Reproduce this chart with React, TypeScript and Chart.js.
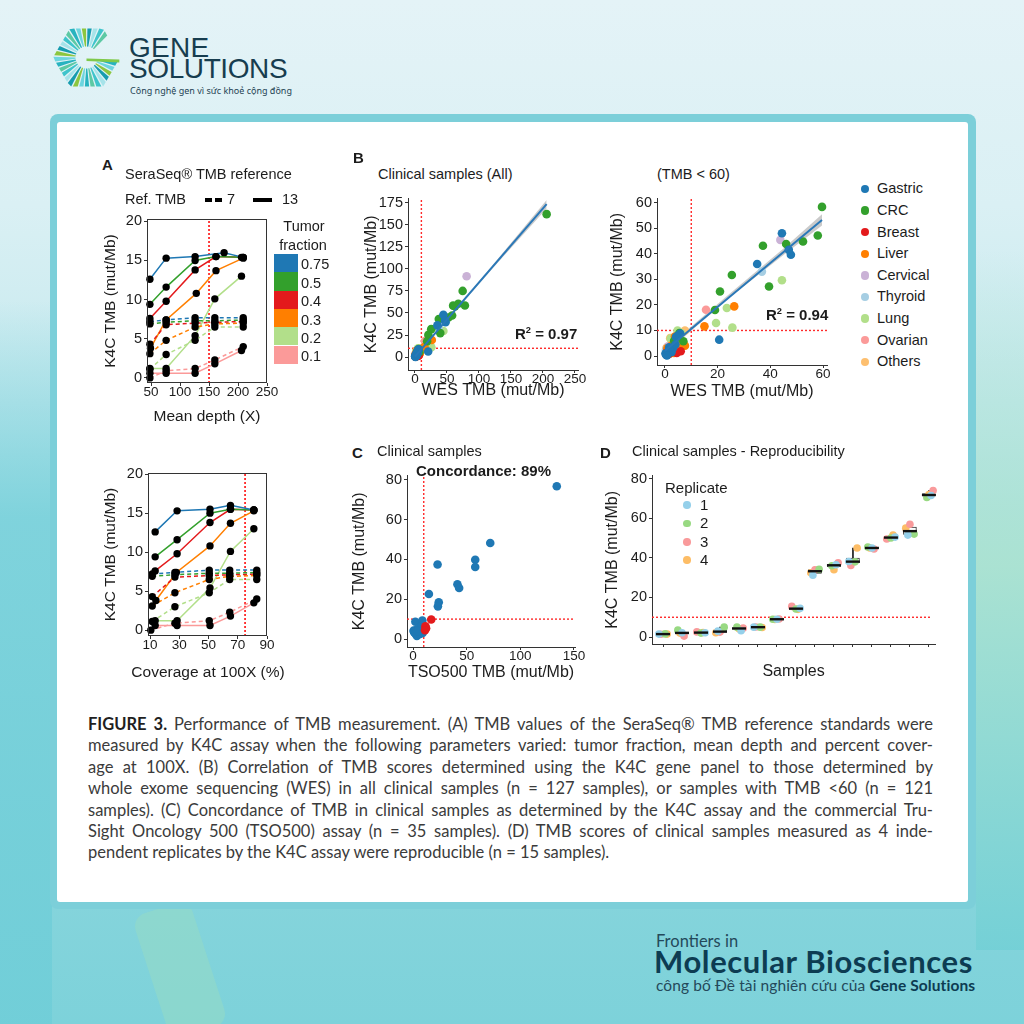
import React, { useEffect, useRef } from 'react';
import { Chart, registerables } from 'chart.js';

Chart.register(...registerables);

const FIG_FONT = "'Liberation Sans', Arial, Helvetica, sans-serif";
const INK = '#1c1c1c';
const AXIS = '#333333';
const RED_LINE = '#ff2a2a';
Chart.defaults.font.family = FIG_FONT;

// ---------------- Panel A: SeraSeq TMB reference ----------------
const fractionLabels = ['0.75', '0.5', '0.4', '0.3', '0.2', '0.1'];
const fractionColors = ['#1F78B4', '#33A02C', '#E31A1C', '#FF7F00', '#B2DF8A', '#FB9A99'];
// K4C TMB measured for reference TMB 13 (solid) and 7 (dashed), 5 runs per tumor fraction
const tmbRef13 = [
  [12.6, 15.3, 15.5, 16.0, 15.4],
  [9.4, 11.6, 15.0, 15.5, 15.4],
  [7.6, 9.8, 13.8, 15.5, 15.4],
  [3.8, 7.4, 10.8, 13.7, 15.3],
  [1.2, 1.2, 5.4, 10.1, 13.0],
  [0.6, 0.6, 0.6, 1.8, 3.5],
];
const tmbRef7 = [
  [7.2, 7.4, 7.7, 7.7, 7.7],
  [6.9, 7.1, 7.3, 7.3, 7.4],
  [4.3, 6.8, 7.0, 7.1, 7.2],
  [3.1, 4.8, 6.5, 6.9, 7.0],
  [1.1, 3.0, 4.8, 6.5, 6.5],
  [0.0, 0.9, 1.2, 2.3, 4.0],
];
// mean depth (X) of each run
const depthRef13 = [
  [48, 76, 126, 176, 209],
  [48, 76, 126, 162, 206],
  [48, 76, 126, 162, 209],
  [49, 76, 128, 162, 209],
  [48, 76, 126, 160, 206],
  [48, 76, 126, 160, 206],
];
const depthRef7 = [
  [48, 76, 126, 160, 209],
  [48, 76, 126, 160, 209],
  [48, 76, 126, 160, 209],
  [48, 76, 126, 160, 209],
  [48, 76, 126, 160, 209],
  [48, 76, 126, 160, 209],
];
// coverage at 100X (%) of each run
const coverageRef13 = [
  [13.5, 28.5, 51, 65, 81],
  [13.5, 28.5, 51, 65, 81],
  [13.5, 28.5, 51, 65, 81],
  [14, 28, 51, 65, 81],
  [13.5, 28.5, 51, 65, 81],
  [13.5, 28.5, 51, 65, 81],
];
const coverageRef7 = [
  [11.5, 27, 50.5, 64.5, 83],
  [11.5, 27, 50.5, 64.5, 83],
  [11.5, 27, 50.5, 64.5, 83],
  [11.5, 27, 50.5, 64.5, 83],
  [11.5, 27, 50.5, 64.5, 83],
  [10.5, 27, 50.5, 64.5, 83],
];
const depthCutoff = 150;
const coverageCutoff = 75;
const tmbTicksA = [0, 5, 10, 15, 20];
const depthTicks = [50, 100, 150, 200, 250];
const coverageTicks = [10, 30, 50, 70, 90];

// ---------------- Panel B: K4C vs WES ----------------
const cancerTypes = ['Gastric', 'CRC', 'Breast', 'Liver', 'Cervical', 'Thyroid', 'Lung', 'Ovarian', 'Others'];
const cancerColors = ['#1F78B4', '#33A02C', '#E31A1C', '#FF7F00', '#CAB2D6', '#A6CEE3', '#B2DF8A', '#FB9A99', '#FDBF6F'];
// [WES TMB, K4C TMB]
const gastricPts = [[44.4, 48.0], [47.0, 41.5], [47.8, 39.6], [35.0, 36.0], [20.6, 6.4], [5.8, 8.8], [5.0, 8.0], [4.2, 7.5], [2.0, 2.5], [1.0, 1.2], [0.5, 0.4], [3.0, 3.0], [1.5, 2.0], [0.2, 1.0], [2.5, 1.5], [4.0, 4.5], [0.8, 0.2], [1.6, 3.4]];
const crcPts = [[59.6, 58.3], [58.0, 47.1], [52.4, 44.8], [46.0, 43.8], [37.2, 43.1], [39.5, 27.2], [25.4, 31.7], [20.9, 25.2], [19.0, 18.0], [7.0, 5.8], [4.5, 7.2], [5.5, 9.0], [3.5, 6.0], [205.7, 162.0], [74.5, 75.0], [78.0, 58.5], [67.7, 60.5], [62.5, 57.5]];
const breastPts = [[6.0, 1.9], [3.2, 2.0], [1.5, 0.8], [2.2, 3.2], [0.8, 1.5], [4.5, 1.2]];
const liverPts = [[26.3, 19.4], [15.0, 11.6], [7.6, 4.0], [2.0, 1.5], [1.0, 2.2], [3.0, 3.2], [4.2, 2.0], [2.6, 4.2], [0.5, 0.6], [5.5, 2.0], [3.8, 7.6], [1.8, 0.9], [2.4, 2.6], [0.9, 3.0], [6.5, 4.5], [1.4, 1.8], [3.4, 1.2]];
const cervicalPts = [[43.8, 45.4], [80.7, 91.6], [1.2, 3.8], [2.5, 2.4], [4.8, 4.8]];
const thyroidPts = [[36.8, 33.0], [2.0, 1.8], [1.0, 1.4], [3.2, 3.6], [0.4, 2.4]];
const lungPts = [[44.4, 29.6], [23.5, 18.8], [19.4, 12.9], [25.6, 11.1], [4.8, 10.0], [3.0, 5.0], [1.0, 2.0], [6.2, 9.0], [2.2, 6.8]];
const ovarianPts = [[15.6, 18.1], [2.0, 3.0], [1.0, 0.5], [3.5, 4.2]];
const othersPts = [[7.6, 10.0], [7.4, 4.4], [3.0, 4.0], [2.0, 7.0], [1.2, 1.0], [5.0, 6.0], [0.6, 3.2]];
const cancerPoints = [gastricPts, crcPts, breastPts, liverPts, cervicalPts, thyroidPts, lungPts, ovarianPts, othersPts];
// fitted regression lines and their confidence bands
const fitAllX = [0, 205.7];
const fitAllY = [0.5, 173.3];
const bandAllX = [0, 20, 60, 120, 205.7];
const bandAllLo = [-1.2, 16.2, 49.8, 99.5, 168.5];
const bandAllHi = [2.2, 18.4, 52.0, 103.1, 178.0];
const fitLowX = [0, 59.6];
const fitLowY = [2.1, 53.2];
const bandLowX = [0, 10, 25, 45, 59.6];
const bandLowLo = [0.8, 9.9, 23.3, 39.5, 51.0];
const bandLowHi = [3.4, 11.5, 24.7, 42.0, 55.4];
const tmbCutoff = 10;
const bAllXTicks = [0, 50, 100, 150, 200, 250];
const bAllYTicks = [0, 25, 50, 75, 100, 125, 150, 175];
const bLowTicksX = [0, 20, 40, 60];
const bLowTicksY = [0, 10, 20, 30, 40, 50, 60];

// ---------------- Panel C: K4C vs TSO500 ----------------
// [TSO500 TMB, K4C TMB]
const concordantPts = [[134, 76.7], [72, 48.2], [58, 39.8], [58, 36.2], [22.9, 37.4], [41.4, 27.5], [43, 25.6], [14.8, 22.6], [24, 18.5], [23.2, 16.4], [2.2, 8.7], [8.7, 9.3], [0.5, 4.2], [1.5, 3.2], [2.4, 2.6], [3.2, 4.6], [4.2, 2.0], [5.0, 3.2], [6.0, 3.8], [7.0, 4.4], [8.2, 5.4], [9.0, 3.0], [3.6, 1.6], [1.0, 3.6], [5.6, 5.2], [7.6, 6.4], [2.6, 3.0], [6.6, 2.6], [4.6, 4.0], [8.8, 7.0], [9.6, 4.6]];
const discordantPts = [[17, 9.8], [11.6, 6.4], [12.2, 5.4], [11.2, 4.4]];
const cXTicks = [0, 50, 100, 150];
const cYTicks = [0, 20, 40, 60, 80];

// ---------------- Panel D: reproducibility ----------------
const replicateLabels = ['1', '2', '3', '4'];
const replicateColors = ['#95d0ea', '#98d982', '#f99a9b', '#fdbd66'];
const rep1 = [1.5, 2.2, 2.2, 3.0, 3.2, 5.0, 9.0, 14.5, 31.2, 36.5, 38.2, 45.0, 50.5, 51.5, 71.5];
const rep2 = [1.6, 3.5, 2.0, 5.0, 5.0, 5.0, 9.0, 14.2, 34.2, 36.0, 38.0, 45.5, 50.0, 52.0, 70.5];
const rep3 = [1.4, 0.5, 2.6, 2.5, 4.5, 5.1, 9.1, 15.5, 34.0, 37.5, 36.2, 44.5, 49.5, 57.0, 74.0];
const rep4 = [1.5, 2.0, 2.3, 2.2, 4.2, 4.8, 8.9, 14.0, 32.5, 34.0, 45.0, 45.0, 51.5, 55.0, 72.0];
const replicates = [rep1, rep2, rep3, rep4];
const dYTicks = [0, 20, 40, 60, 80];

// ---------------- caption ----------------
const captionLines = [
  'Performance of TMB measurement. (A) TMB values of the SeraSeq® TMB reference standards were',
  'measured by K4C assay when the following parameters varied: tumor fraction, mean depth and percent cover-',
  'age at 100X. (B) Correlation of TMB scores determined using the K4C gene panel to those determined by',
  'whole exome sequencing (WES) in all clinical samples (n = 127 samples), or samples with TMB <60 (n = 121',
  'samples). (C) Concordance of TMB in clinical samples as determined by the K4C assay and the commercial Tru-',
  'Sight Oncology 500 (TSO500) assay (n = 35 samples). (D) TMB scores of clinical samples measured as 4 inde-',
  'pendent replicates by the K4C assay were reproducible (n = 15 samples).',
];

// ---------------- helpers ----------------
type AxisSpec = {
  min: number; max: number; ticks: number[]; size: number; title: string;
  titleSize: number; titlePad: number; labels?: boolean; border?: boolean; showTitle?: boolean;
};

function axis(horizontal: boolean, a: AxisSpec) {
  return {
    type: 'linear',
    min: a.min,
    max: a.max,
    offset: false,
    afterBuildTicks: (s: any) => { s.ticks = a.ticks.map((v) => ({ value: v })); },
    afterFit: (s: any) => { if (horizontal) s.height = a.size; else s.width = a.size; },
    grid: { display: true, offset: false, drawOnChartArea: false, drawTicks: true, tickLength: 3, color: AXIS, lineWidth: 1 },
    border: { display: a.border !== false, color: AXIS, width: 1 },
    ticks: {
      color: INK,
      font: horizontal ? { family: FIG_FONT, size: 13.5, lineHeight: 1 } : { family: FIG_FONT, size: 14.5 },
      padding: horizontal ? 0 : 2,
      maxRotation: 0,
      minRotation: 0,
      autoSkip: false,
      callback: (v: any) => (a.labels === false ? '' : String(v)),
    },
    title: {
      display: a.showTitle !== false,
      text: a.title,
      color: INK,
      font: { family: FIG_FONT, size: a.titleSize },
      padding: horizontal ? { top: 0, bottom: a.titlePad } : { top: a.titlePad, bottom: 0 },
    },
  };
}

function base(pad: any, scales: any) {
  return {
    responsive: false,
    animation: false,
    devicePixelRatio: 1,
    events: [],
    layout: { padding: pad },
    plugins: { legend: { display: false }, tooltip: { enabled: false } },
    scales,
  };
}

const framePlugin = {
  id: 'frame',
  afterDatasetsDraw(chart: any) {
    const { ctx, chartArea } = chart;
    ctx.save();
    ctx.strokeStyle = AXIS;
    ctx.lineWidth = 1;
    ctx.strokeRect(chartArea.left + 0.5, chartArea.top + 0.5, chartArea.right - chartArea.left - 1, chartArea.bottom - chartArea.top - 1);
    ctx.restore();
  },
};

function refLine(x0: number, y0: number, x1: number, y1: number, width = 1.4) {
  return {
    type: 'line',
    data: [{ x: x0, y: y0 }, { x: x1, y: y1 }],
    borderColor: RED_LINE,
    borderWidth: width,
    borderDash: [2, 2],
    pointRadius: 0,
    fill: false,
  };
}

function panelADatasets(x13: number[][], x7: number[][], cutoff: number, yMin: number, yMax: number) {
  const lines: any[] = [];
  const dots: any[] = [];
  fractionColors.forEach((c, i) => {
    const solid = x13[i].map((x, j) => ({ x, y: tmbRef13[i][j] }));
    const dashed = x7[i].map((x, j) => ({ x, y: tmbRef7[i][j] }));
    lines.push({ type: 'line', data: solid, borderColor: c, borderWidth: 1.5, pointRadius: 0, fill: false });
    lines.push({ type: 'line', data: dashed, borderColor: c, borderWidth: 1.5, borderDash: [4, 3], pointRadius: 0, fill: false });
    dots.push(...solid, ...dashed);
  });
  return [
    { type: 'scatter', data: dots, pointRadius: 3.7, backgroundColor: '#000', borderWidth: 0, clip: false },
    ...lines,
    refLine(cutoff, yMin, cutoff, yMax, 1.8),
  ];
}

function toXY(xs: number[], ys: number[]) {
  return xs.map((x, i) => ({ x, y: ys[i] }));
}

function panelBDatasets(keep: (p: number[]) => boolean, fx: number[], fy: number[], bx: number[], lo: number[], hi: number[], xr: number[], yr: number[]) {
  const pts = cancerPoints.map((arr, k) => ({
    type: 'scatter',
    data: arr.filter(keep).map(([x, y]) => ({ x, y })),
    pointRadius: 4.3,
    backgroundColor: cancerColors[k],
    borderWidth: 0,
    clip: false,
  }));
  return [
    { type: 'line', data: toXY(fx, fy), borderColor: '#2a78b8', borderWidth: 2, pointRadius: 0, fill: false },
    ...pts,
    { type: 'line', data: toXY(bx, hi), borderWidth: 0, borderColor: 'rgba(0,0,0,0)', pointRadius: 0, fill: '+1', backgroundColor: 'rgba(150,150,150,0.5)' },
    { type: 'line', data: toXY(bx, lo), borderWidth: 0, borderColor: 'rgba(0,0,0,0)', pointRadius: 0, fill: false },
    refLine(xr[0], tmbCutoff, xr[1], tmbCutoff),
    refLine(tmbCutoff, yr[0], tmbCutoff, yr[1]),
  ];
}

function quantile(sorted: number[], p: number) {
  const h = (sorted.length - 1) * p;
  const lo = Math.floor(h);
  const hiI = Math.min(lo + 1, sorted.length - 1);
  return sorted[lo] + (h - lo) * (sorted[hiI] - sorted[lo]);
}

// ---------------- chart configs ----------------
const configATop = () => ({
  type: 'scatter',
  data: { datasets: panelADatasets(depthRef13, depthRef7, depthCutoff, -0.65, 20.3) },
  options: base({ left: 0, top: 14, right: 19, bottom: 0 }, {
    x: axis(true, { min: 43, max: 250, ticks: depthTicks, size: 52, title: 'Mean depth (X)', titleSize: 15.5, titlePad: 9, border: false }),
    y: axis(false, { min: -0.65, max: 20.3, ticks: tmbTicksA, size: 51, title: 'K4C TMB (mut/Mb)', titleSize: 15.5, titlePad: 5, border: false }),
  }),
  plugins: [framePlugin],
});

const configABottom = () => ({
  type: 'scatter',
  data: { datasets: panelADatasets(coverageRef13, coverageRef7, coverageCutoff, -0.75, 20.15) },
  options: base({ left: 0, top: 13, right: 19, bottom: 0 }, {
    x: axis(true, { min: 8.6, max: 90, ticks: coverageTicks, size: 54, title: 'Coverage at 100X (%)', titleSize: 15.5, titlePad: 9, border: false, showTitle: false }),
    y: axis(false, { min: -0.75, max: 20.15, ticks: tmbTicksA, size: 52, title: 'K4C TMB (mut/Mb)', titleSize: 15.5, titlePad: 5, border: false }),
  }),
  plugins: [framePlugin],
});

const configBAll = () => ({
  type: 'scatter',
  data: { datasets: panelBDatasets(() => true, fitAllX, fitAllY, bandAllX, bandAllLo, bandAllHi, [-10.9, 254.7], [-14.6, 179.5]) },
  options: base({ left: 0, top: 9, right: 17, bottom: 0 }, {
    x: axis(true, { min: -10.9, max: 254.7, ticks: bAllXTicks, size: 32, title: 'WES TMB (mut/Mb)', titleSize: 16, titlePad: 1.4 }),
    y: axis(false, { min: -14.6, max: 179.5, ticks: bAllYTicks, size: 58, title: 'K4C TMB (mut/Mb)', titleSize: 16, titlePad: 12.4 }),
  }),
});

const configBLow = () => ({
  type: 'scatter',
  data: { datasets: panelBDatasets((p) => p[0] < 60 && p[1] < 60, fitLowX, fitLowY, bandLowX, bandLowLo, bandLowHi, [-3.0, 61.5], [-3.5, 61.5]) },
  options: base({ left: 0, top: 9, right: 18, bottom: 0 }, {
    x: axis(true, { min: -3.0, max: 61.5, ticks: bLowTicksX, size: 37, title: 'WES TMB (mut/Mb)', titleSize: 16, titlePad: 1 }),
    y: axis(false, { min: -3.5, max: 61.5, ticks: bLowTicksY, size: 57, title: 'K4C TMB (mut/Mb)', titleSize: 16, titlePad: 8.4 }),
  }),
});

const configC = () => ({
  type: 'scatter',
  data: {
    datasets: [
      { type: 'scatter', data: discordantPts.map(([x, y]) => ({ x, y })), pointRadius: 4.3, backgroundColor: '#E31A1C', borderWidth: 0, clip: false },
      { type: 'scatter', data: concordantPts.map(([x, y]) => ({ x, y })), pointRadius: 4.3, backgroundColor: '#1F78B4', borderWidth: 0, clip: false },
      refLine(-5.6, tmbCutoff, 151, tmbCutoff),
      refLine(tmbCutoff, -4, tmbCutoff, 82),
    ],
  },
  options: base({ left: 0, top: 8, right: 15, bottom: 0 }, {
    x: axis(true, { min: -5.6, max: 151, ticks: cXTicks, size: 43, title: 'TSO500 TMB (mut/Mb)', titleSize: 16, titlePad: 7.6 }),
    y: axis(false, { min: -4, max: 82, ticks: cYTicks, size: 62, title: 'K4C TMB (mut/Mb)', titleSize: 16, titlePad: 4.6 }),
  }),
});

const configD = () => {
  const stats = rep1.map((_, i) => {
    const s = replicates.map((r) => r[i]).sort((a, b) => a - b);
    return { min: s[0], q1: quantile(s, 0.25), med: quantile(s, 0.5), q3: quantile(s, 0.75), max: s[s.length - 1] };
  });
  const jitter = (i: number, k: number) => (((i * 7 + k * 3) % 5) - 2) * 0.11;
  const sampleTicks = rep1.map((_, i) => i + 1);
  return {
    type: 'scatter',
    data: {
      datasets: [
        { type: 'scatter', data: stats.map((s, i) => ({ x: i + 1, y: s.med })), pointStyle: 'line', pointRadius: 7, pointBorderWidth: 2.4, pointBorderColor: '#111', borderColor: '#111', clip: false },
        ...replicates.map((r, k) => ({
          type: 'scatter',
          data: r.map((v, i) => ({ x: i + 1 + jitter(i, k), y: v })),
          pointRadius: 3.8,
          backgroundColor: replicateColors[k],
          borderWidth: 0,
          clip: false,
        })),
        { type: 'bar', data: stats.map((s, i) => ({ x: i + 1, y: [s.q1, s.q3] })), barThickness: 13, backgroundColor: '#ffffff', borderColor: '#333', borderWidth: 1, borderSkipped: false, grouped: false },
        { type: 'bar', data: stats.map((s, i) => ({ x: i + 1, y: [s.min, s.max] })), barThickness: 1.2, backgroundColor: '#333', borderWidth: 0, grouped: false },
        refLine(0.42, tmbCutoff, 15.1, tmbCutoff),
      ],
    },
    options: base({ left: 0, top: 8, right: 13, bottom: 0 }, {
      x: axis(true, { min: 0.42, max: 15.32, ticks: sampleTicks, size: 46, title: 'Samples', titleSize: 16, titlePad: 8.4, labels: false }),
      y: axis(false, { min: -3.5, max: 81.5, ticks: dYTicks, size: 54, title: 'K4C TMB (mut/Mb)', titleSize: 16, titlePad: 5.4 }),
    }),
  };
};

// ---------------- components ----------------
function ChartCanvas({ left, top, width, height, config }: any) {
  const ref = useRef<HTMLCanvasElement | null>(null);
  useEffect(() => {
    const chart = new Chart(ref.current as HTMLCanvasElement, config() as any);
    return () => chart.destroy();
  }, []);
  return <canvas ref={ref} width={width} height={height} style={{ position: 'absolute', left, top, width, height }} />;
}

function Txt({ x, y, size = 14.5, bold = false, color = INK, family = FIG_FONT, center = false, children, style }: any) {
  return (
    <div
      style={{
        position: 'absolute',
        left: x,
        top: y - size * 0.6,
        fontSize: size,
        lineHeight: `${size * 1.2}px`,
        fontWeight: bold ? 700 : 400,
        color,
        fontFamily: family,
        whiteSpace: 'nowrap',
        transform: center ? 'translateX(-50%)' : undefined,
        ...style,
      }}
    >
      {children}
    </div>
  );
}

function Logo() {
  const cx = 86.5;
  const cy = 57.5;
  const R = 33.5;
  const colors = ['#27b3bf', '#6dd5de', '#8cc63f', '#179caf', '#a6e3e9', '#3fc4cb', '#5cc9a4'];
  const hexR = (deg: number) => {
    const m = ((deg % 60) + 60) % 60;
    return (R * Math.cos(Math.PI / 6)) / Math.cos(((m - 30) * Math.PI) / 180);
  };
  const pt = (deg: number, r: number) => {
    const a = (deg * Math.PI) / 180;
    return `${(cx + r * Math.cos(a)).toFixed(2)},${(cy + r * Math.sin(a)).toFixed(2)}`;
  };
  const rays: any[] = [];
  let k = 0;
  for (let a = 12; a <= 318; a += 11) {
    const p = [pt(a - 3, 11), pt(a + 3, 11), pt(a + 4.2, hexR(a + 4.2)), pt(a - 4.2, hexR(a - 4.2))].join(' ');
    rays.push(<polygon key={a} points={p} fill={colors[k % colors.length]} />);
    k++;
  }
  return (
    <svg width={1024} height={120} style={{ position: 'absolute', left: 0, top: 0 }}>
      {rays}
      <polygon points={`${cx},${cy + 1} ${cx + R * 0.98},${cy + 2} ${cx + R * 0.98},${cy + 5} ${cx},${cy + 3.5}`} fill="#7fc94a" />
    </svg>
  );
}

function DashKey({ x, y, w, dashed }: any) {
  return (
    <svg width={w} height={8} style={{ position: 'absolute', left: x, top: y - 4 }}>
      <line x1={0} y1={4} x2={w} y2={4} stroke="#000" strokeWidth={4} strokeDasharray={dashed ? '7 3' : undefined} />
    </svg>
  );
}

export default function App() {
  const legendRowsB = cancerTypes.map((t, i) => ({ t, c: cancerColors[i], y: 189 + i * 21.6 }));
  return (
    <div
      style={{
        position: 'fixed',
        left: 0,
        top: 0,
        width: 1024,
        height: 1024,
        overflow: 'hidden',
        background: 'linear-gradient(180deg, #e4f3f7 0%, #daf0f4 20%, #c2e8ed 42%, #a3dfe4 62%, #88d5dc 82%, #7dd2da 100%)',
        fontFamily: FIG_FONT,
      }}
    >
      {/* side decorations */}
      <div style={{ position: 'absolute', left: 0, top: 300, width: 52, height: 724, background: 'linear-gradient(180deg, rgba(130,212,222,0) 0%, rgba(118,208,218,0.85) 30%, rgba(112,206,216,0.9) 100%)' }} />
      <div style={{ position: 'absolute', left: 976, top: 250, width: 48, height: 700, background: 'linear-gradient(180deg, rgba(190,232,222,0) 0%, rgba(170,226,208,0.9) 45%, rgba(115,208,214,0.9) 100%)' }} />
      <div style={{ position: 'absolute', left: 150, top: 905, width: 60, height: 130, borderRadius: 14, transform: 'rotate(-18deg)', background: 'rgba(150,218,196,0.55)' }} />

      <Logo />
      <div style={{ position: 'absolute', left: 129, top: 30.5, fontSize: 28, lineHeight: '33.6px', color: '#173d4f', fontFamily: "'Liberation Sans', Arial, sans-serif", letterSpacing: 0.3 }}>GENE</div>
      <div style={{ position: 'absolute', left: 129, top: 51.5, fontSize: 28, lineHeight: '33.6px', color: '#173d4f', fontFamily: "'Liberation Sans', Arial, sans-serif", letterSpacing: -0.4 }}>SOLUTIONS</div>
      <div style={{ position: 'absolute', left: 130, top: 86, fontSize: 9, lineHeight: '10.8px', color: '#1f4454', fontFamily: "'Noto Sans', sans-serif" }}>Công nghệ gen vì sức khoẻ cộng đồng</div>

      {/* card */}
      <div style={{ position: 'absolute', left: 50, top: 114, width: 926, height: 795, background: '#7ccfd9', borderRadius: 8 }} />
      <div style={{ position: 'absolute', left: 57, top: 122, width: 911, height: 780, background: '#ffffff', borderRadius: 3 }} />

      {/* charts */}
      <ChartCanvas left={96} top={205} width={190} height={230} config={configATop} />
      <ChartCanvas left={96} top={460} width={190} height={230} config={configABottom} />
      <ChartCanvas left={350} top={188} width={245} height={214} config={configBAll} />
      <ChartCanvas left={600} top={188} width={245} height={214} config={configBLow} />
      <ChartCanvas left={345} top={465} width={245} height={225} config={configC} />
      <ChartCanvas left={598} top={465} width={350} height={225} config={configD} />

      {/* panel A texts */}
      <Txt x={102} y={165} size={15} bold>A</Txt>
      <Txt x={125} y={175} size={14.5}>SeraSeq® TMB reference</Txt>
      <Txt x={125} y={200} size={14.5}>Ref. TMB</Txt>
      <DashKey x={205} y={200} w={18} dashed />
      <Txt x={227} y={200} size={14.5}>7</Txt>
      <DashKey x={253} y={200} w={19} />
      <Txt x={282} y={200} size={14.5}>13</Txt>
      <Txt x={304} y={227} size={14.5} center>Tumor</Txt>
      <Txt x={303} y={246} size={14.5} center>fraction</Txt>
      {fractionLabels.map((l, i) => (
        <React.Fragment key={l}>
          <div style={{ position: 'absolute', left: 274, top: 254 + i * 18.3, width: 24, height: 18.3, background: fractionColors[i] }} />
          <Txt x={301} y={265 + i * 18.4} size={14.5}>{l}</Txt>
        </React.Fragment>
      ))}
      <Txt x={208} y={672} size={15.5} center>Coverage at 100X (%)</Txt>

      {/* panel B texts */}
      <Txt x={353} y={158} size={15} bold>B</Txt>
      <Txt x={378} y={175} size={14.5}>Clinical samples (All)</Txt>
      <Txt x={657} y={175} size={14.5}>(TMB &lt; 60)</Txt>
      <Txt x={515} y={334} size={15} bold>R<sup style={{ fontSize: '0.62em', lineHeight: 0 }}>2</sup> = 0.97</Txt>
      <Txt x={766} y={315} size={15} bold>R<sup style={{ fontSize: '0.62em', lineHeight: 0 }}>2</sup> = 0.94</Txt>
      {legendRowsB.map((r) => (
        <React.Fragment key={r.t}>
          <div style={{ position: 'absolute', left: 865 - 4.3, top: r.y - 4.3, width: 8.6, height: 8.6, borderRadius: '50%', background: r.c }} />
          <Txt x={877} y={r.y} size={14.5}>{r.t}</Txt>
        </React.Fragment>
      ))}

      {/* panel C texts */}
      <Txt x={352} y={453} size={15} bold>C</Txt>
      <Txt x={377} y={452} size={14.5}>Clinical samples</Txt>
      <Txt x={416} y={471} size={15} bold>Concordance: 89%</Txt>

      {/* panel D texts */}
      <Txt x={600} y={453} size={15} bold>D</Txt>
      <Txt x={632} y={452} size={14.5}>Clinical samples - Reproducibility</Txt>
      <Txt x={665} y={488} size={15}>Replicate</Txt>
      {replicateLabels.map((l, i) => (
        <React.Fragment key={l}>
          <div style={{ position: 'absolute', left: 687 - 3.8, top: 505 + i * 18.4 - 3.8, width: 7.6, height: 7.6, borderRadius: '50%', background: replicateColors[i] }} />
          <Txt x={700} y={505 + i * 18.4} size={15}>{l}</Txt>
        </React.Fragment>
      ))}

      {/* caption */}
      {captionLines.map((line, i) => (
        <div
          key={i}
          style={{
            position: 'absolute',
            left: 88,
            top: 714 + i * 21.4,
            width: 845,
            fontFamily: 'Lato, sans-serif',
            fontSize: 16.5,
            lineHeight: '21.4px',
            color: '#3b3b3b',
            whiteSpace: 'nowrap',
            textAlign: 'justify',
            textAlignLast: i < captionLines.length - 1 ? 'justify' : 'left',
          }}
        >
          {i === 0 ? <b style={{ color: '#1f1f1f' }}>FIGURE 3. </b> : null}
          {line}
        </div>
      ))}

      {/* footer */}
      <div style={{ position: 'absolute', left: 656, top: 931.7, fontFamily: 'Lato, sans-serif', fontSize: 16.5, lineHeight: '19.8px', color: '#24495a' }}>Frontiers in</div>
      <div style={{ position: 'absolute', left: 654, top: 943.4, fontFamily: 'Lato, sans-serif', fontSize: 31, fontWeight: 700, lineHeight: '37.2px', letterSpacing: 0.6, color: '#0d3c52', whiteSpace: 'nowrap' }}>Molecular Biosciences</div>
      <div style={{ position: 'absolute', left: 656, top: 975.7, fontFamily: 'Lato, sans-serif', fontSize: 15.5, lineHeight: '18.6px', letterSpacing: 0.1, color: '#24495a', whiteSpace: 'nowrap' }}>
        công bố Đề tài nghiên cứu của <b style={{ color: '#0d3c52' }}>Gene Solutions</b>
      </div>
    </div>
  );
}
